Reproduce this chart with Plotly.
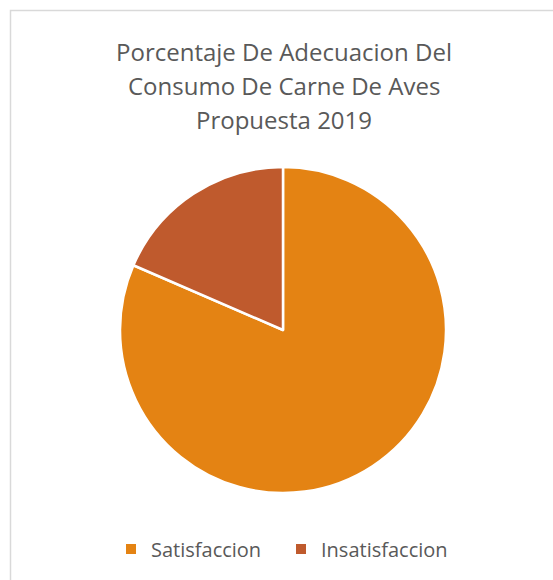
import plotly.graph_objects as go

W, H = 553, 580

labels = ["Satisfaccion", "Insatisfaccion"]
values = [81.5, 18.5]
colors = ["#E48313", "#BF5A2D"]
title_lines = ["Porcentaje De Adecuacion Del", "Consumo De Carne De Aves", "Propuesta 2019"]

def px_x(x):
    return x / W

def px_y(y):
    return 1 - y / H

fig = go.Figure(go.Pie(
    labels=labels,
    values=values,
    sort=False,
    direction="clockwise",
    rotation=0,
    marker=dict(colors=colors, line=dict(color="white", width=2.5)),
    textinfo="none",
    hoverinfo="label+percent",
    domain=dict(x=[px_x(120), px_x(446)], y=[px_y(493), px_y(167)]),
))

title_y = [51, 85.5, 120]
for line, ty in zip(title_lines, title_y):
    fig.add_annotation(
        text=line,
        x=px_x(284), y=px_y(ty), xref="paper", yref="paper",
        xanchor="center", yanchor="middle", showarrow=False,
        font=dict(family="Open Sans", size=24, color="#595959"),
    )

fig.add_shape(
    type="rect", xref="paper", yref="paper",
    x0=px_x(10.5), x1=1.05, y0=-0.05, y1=px_y(10.5),
    line=dict(color="#D9D9D9", width=1.5),
)

fig.update_layout(
    width=W, height=H,
    margin=dict(l=0, r=0, t=0, b=0),
    paper_bgcolor="white",
    showlegend=True,
    legend=dict(
        orientation="h", x=px_x(111), xanchor="left", y=px_y(549), yanchor="middle",
        font=dict(family="Open Sans", size=20, color="#595959"),
        itemsizing="constant", entrywidth=125, entrywidthmode="pixels",
    ),
)

fig.write_html("out.html", config={"displayModeBar": False},
               post_script="document.body.style.margin='0';")
